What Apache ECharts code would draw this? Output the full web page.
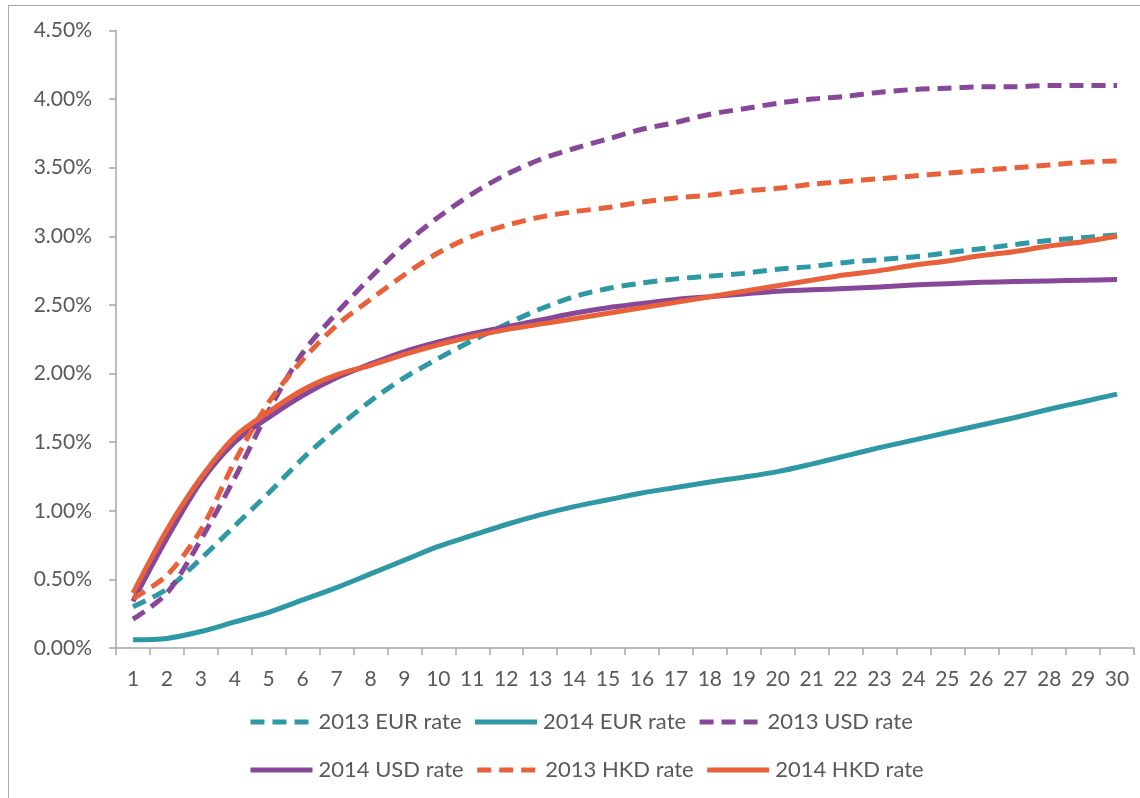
<!DOCTYPE html>
<html>
<head>
<meta charset="utf-8">
<script src="https://cdn.jsdelivr.net/npm/echarts@6/dist/echarts.min.js"></script>
<style>
html,body{margin:0;padding:0;background:#fff;}
#chart{width:1140px;height:798px;}
</style>
</head>
<body>
<div id="chart"></div>
<script>
const categories = Array.from({length: 30}, (_, i) => String(i + 1));
const yTicks = ['0.00%','0.50%','1.00%','1.50%','2.00%','2.50%','3.00%','3.50%','4.00%','4.50%'];

const eur2013 = [0.30,0.43,0.65,0.89,1.13,1.38,1.60,1.80,1.97,2.11,2.24,2.36,2.47,2.56,2.62,2.66,2.69,2.71,2.73,2.76,2.78,2.81,2.83,2.85,2.88,2.91,2.94,2.97,2.99,3.01];
const eur2014 = [0.06,0.07,0.12,0.19,0.26,0.35,0.44,0.54,0.64,0.74,0.82,0.90,0.97,1.03,1.08,1.13,1.17,1.21,1.245,1.285,1.34,1.40,1.46,1.515,1.57,1.625,1.68,1.74,1.795,1.85];
const usd2013 = [0.21,0.40,0.79,1.24,1.73,2.15,2.44,2.70,2.94,3.14,3.31,3.45,3.56,3.64,3.71,3.78,3.83,3.89,3.93,3.97,4.00,4.02,4.05,4.07,4.08,4.09,4.09,4.10,4.10,4.10];
const usd2014 = [0.34,0.80,1.21,1.50,1.68,1.84,1.97,2.07,2.16,2.23,2.29,2.34,2.39,2.44,2.48,2.51,2.54,2.56,2.58,2.60,2.61,2.62,2.63,2.645,2.655,2.665,2.67,2.675,2.68,2.685];
const hkd2013 = [0.36,0.53,0.86,1.36,1.79,2.10,2.35,2.54,2.72,2.88,3.00,3.08,3.14,3.18,3.21,3.25,3.28,3.30,3.33,3.35,3.38,3.40,3.42,3.44,3.46,3.48,3.50,3.52,3.54,3.55];
const hkd2014 = [0.40,0.86,1.24,1.54,1.72,1.88,1.99,2.06,2.14,2.21,2.27,2.32,2.36,2.40,2.44,2.48,2.52,2.56,2.60,2.64,2.68,2.72,2.75,2.79,2.82,2.86,2.89,2.93,2.96,3.00];

const TEAL = '#2E98A4', PURPLE = '#884899', ORANGE = '#E8613A';
const FONT = 'Lato';
const TXT = '#595959';
const AXIS = '#A6A6A6';

function mk(name, data, color, dashed) {
  return {
    name: name, type: 'line', data: data, symbol: 'none', smooth: 0.3,
    lineStyle: { color: color, width: 5, type: dashed ? [14, 8] : 'solid', cap: 'butt', join: 'round' },
    itemStyle: { color: color },
    emphasis: { disabled: true }
  };
}

const legendBase = {
  left: 243, itemWidth: 62, itemHeight: 14, itemGap: 11,
  itemStyle: { opacity: 0 },
  lineStyle: { width: 5 },
  textStyle: { color: TXT, fontFamily: FONT, fontSize: 22, padding: [0, 0, 0, 1] }
};

const chart = echarts.init(document.getElementById('chart'), null, {renderer: 'canvas'});
chart.setOption({
  animation: false,
  backgroundColor: '#fff',
  graphic: [
    { type: 'line', shape: {x1: 8.5, y1: 5, x2: 8.5, y2: 798}, style: {stroke: AXIS, lineWidth: 1} },
    { type: 'line', shape: {x1: 8, y1: 5.5, x2: 1140, y2: 5.5}, style: {stroke: AXIS, lineWidth: 1} }
  ],
  grid: { left: 116, right: 6, top: 30.5, bottom: 150, containLabel: false },
  legend: [
    Object.assign({}, legendBase, { data: ['2013 EUR rate','2014 EUR rate','2013 USD rate'], top: 706 }),
    Object.assign({}, legendBase, { data: ['2014 USD rate','2013 HKD rate','2014 HKD rate'], top: 754 })
  ],
  xAxis: {
    type: 'category', data: categories, boundaryGap: true,
    axisLine: { lineStyle: { color: AXIS, width: 1.5 } },
    axisTick: { show: true, length: 7, lineStyle: { color: AXIS, width: 1.5 } },
    axisLabel: { color: TXT, fontFamily: FONT, fontSize: 21, margin: 21, interval: 0 },
    splitLine: { show: false }
  },
  yAxis: {
    type: 'value', min: 0, max: 4.5, interval: 0.5,
    axisLine: { show: true, lineStyle: { color: AXIS, width: 1.5 } },
    axisTick: { show: true, length: 7, lineStyle: { color: AXIS, width: 1.5 } },
    axisLabel: { color: TXT, fontFamily: FONT, fontSize: 21, margin: 24,
      formatter: function (v) { return yTicks[Math.round(v / 0.5)]; } },
    splitLine: { show: false }
  },
  series: [
    mk('2013 EUR rate', eur2013, TEAL, true),
    mk('2014 EUR rate', eur2014, TEAL, false),
    mk('2013 USD rate', usd2013, PURPLE, true),
    mk('2014 USD rate', usd2014, PURPLE, false),
    mk('2013 HKD rate', hkd2013, ORANGE, true),
    mk('2014 HKD rate', hkd2014, ORANGE, false)
  ]
});
</script>
</body>
</html>
